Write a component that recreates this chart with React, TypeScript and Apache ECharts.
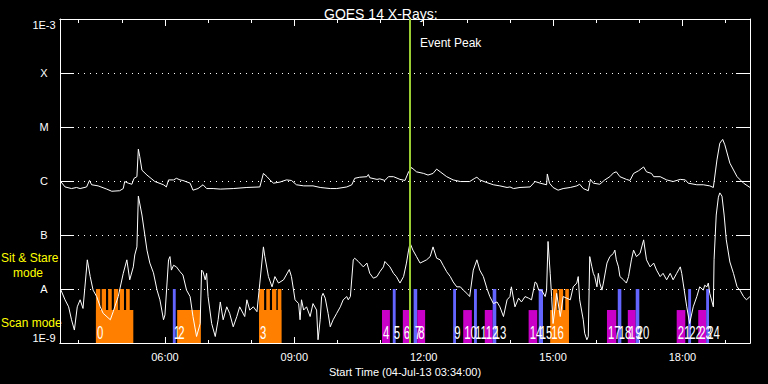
import React, { useEffect, useRef } from 'react';
import * as echarts from 'echarts';

// ---- data (times UT on 04-Jul-2013, fluxes as log10 W/m^2) ----
const timeRange = ['03:34', '19:34'];
const yRange = [-9, -3];
const yTickLabels = ['1E-9', 'A', 'B', 'C', 'M', 'X', '1E-3'];
const xMajorTickLabels = ['06:00', '09:00', '12:00', '15:00', '18:00'];
const xMinorTicks = ['04:00', '05:00', '07:00', '08:00', '10:00', '11:00', '13:00', '14:00', '16:00', '17:00', '19:00'];
const eventPeakTime = '11:41';

// GOES 14 long channel (1-8 A)
const longChannel: [string, number][] = [
  ['03:35', -6.01], ['03:41', -6.11], ['03:50', -6.14], ['03:57', -6.12], ['04:02', -6.14], ['04:11', -6.11], ['04:15', -5.99], ['04:18', -6.07], ['04:27', -6.09], ['04:39', -6.15],
  ['04:46', -6.19], ['04:57', -6.18], ['05:02', -6.14], ['05:04', -6.01], ['05:09', -6.04], ['05:14', -6.06], ['05:17', -5.95], ['05:21', -5.92], ['05:23', -5.41], ['05:25', -5.55],
  ['05:28', -5.80], ['05:35', -5.89], ['05:46', -6.01], ['05:58', -6.07], ['06:02', -6.11], ['06:05', -5.98], ['06:12', -5.98], ['06:16', -5.95], ['06:21', -5.98], ['06:25', -5.99],
  ['06:35', -6.04], ['06:39', -6.17], ['06:46', -6.14], ['06:53', -6.07], ['06:58', -6.14], ['07:07', -6.14], ['07:17', -6.15], ['07:35', -6.14], ['07:54', -6.12], ['08:12', -6.11],
  ['08:17', -5.86], ['08:22', -5.92], ['08:26', -5.98], ['08:31', -6.04], ['08:40', -6.02], ['08:49', -5.98], ['08:56', -5.99], ['09:03', -6.07], ['09:13', -6.09], ['09:26', -6.09],
  ['09:36', -6.12], ['09:50', -6.14], ['09:59', -6.14], ['10:13', -6.11], ['10:20', -6.07], ['10:24', -5.95], ['10:31', -5.93], ['10:41', -5.92], ['10:43', -5.88], ['10:45', -5.94],
  ['10:55', -5.97], ['10:59', -5.96], ['11:06', -5.99], ['11:11', -5.92], ['11:18', -5.92], ['11:27', -5.97], ['11:34', -5.99], ['11:39', -5.83], ['11:41', -5.80], ['11:43', -5.75],
  ['11:50', -5.83], ['12:00', -5.86], ['12:06', -5.89], ['12:13', -5.86], ['12:18', -5.78], ['12:23', -5.83], ['12:32', -5.92], ['12:41', -5.98], ['12:51', -6.01], ['13:04', -6.01],
  ['13:11', -5.95], ['13:14', -5.93], ['13:18', -5.98], ['13:28', -6.03], ['13:37', -6.07], ['13:46', -6.09], ['13:56', -6.12], ['14:00', -6.11], ['14:05', -6.14], ['14:14', -6.12],
  ['14:28', -6.11], ['14:35', -6.01], ['14:42', -6.04], ['14:51', -6.07], ['14:52', -5.87], ['14:55', -6.04], ['15:00', -6.12], ['15:07', -6.17], ['15:14', -6.14], ['15:24', -6.12],
  ['15:33', -6.09], ['15:37', -6.06], ['15:42', -6.14], ['15:49', -6.18], ['15:52', -5.97], ['15:56', -6.04], ['16:05', -6.06], ['16:12', -5.98], ['16:19', -5.92], ['16:24', -5.85],
  ['16:28', -5.83], ['16:33', -5.92], ['16:42', -5.97], ['16:47', -5.99], ['16:52', -5.86], ['16:59', -5.81], ['17:06', -5.74], ['17:10', -5.83], ['17:17', -5.86], ['17:20', -5.92],
  ['17:29', -5.92], ['17:38', -5.98], ['17:47', -6.01], ['17:57', -5.97], ['18:04', -5.98], ['18:08', -6.04], ['18:20', -6.07], ['18:29', -6.07], ['18:38', -6.09], ['18:43', -6.12],
  ['18:48', -5.61], ['18:52', -5.30], ['18:56', -5.23], ['18:59', -5.33], ['19:06', -5.67], ['19:16', -5.92], ['19:25', -6.04], ['19:34', -6.12],
];

// GOES 14 short channel (0.5-4 A)
const shortChannel: [string, number][] = [
  ['03:35', -8.01], ['03:41', -8.20], ['03:46', -8.33], ['03:50', -8.57], ['03:54', -8.76], ['03:58', -8.33], ['04:02', -8.20], ['04:06', -8.36], ['04:12', -7.46], ['04:16', -7.77],
  ['04:20', -8.02], ['04:25', -8.14], ['04:30', -8.33], ['04:34', -8.45], ['04:44', -8.57], ['04:48', -8.42], ['04:55', -8.14], ['05:02', -7.71], ['05:07', -7.46], ['05:11', -7.83],
  ['05:16', -7.59], ['05:18', -7.37], ['05:21', -7.22], ['05:23', -6.28], ['05:28', -6.63], ['05:35', -7.28], ['05:39', -7.52], ['05:44', -7.70], ['05:49', -8.02], ['05:53', -8.20],
  ['05:58', -8.57], ['06:00', -8.48], ['06:05', -7.46], ['06:07', -7.40], ['06:09', -7.65], ['06:12', -7.56], ['06:16', -7.59], ['06:21', -7.68], ['06:25', -7.74], ['06:30', -8.02],
  ['06:35', -8.14], ['06:39', -8.51], ['06:44', -8.88], ['06:49', -8.64], ['06:51', -7.65], ['06:53', -7.68], ['06:56', -7.83], ['06:58', -7.71], ['07:00', -8.14], ['07:05', -8.64],
  ['07:10', -8.88], ['07:14', -8.57], ['07:17', -8.24], ['07:21', -8.57], ['07:26', -8.33], ['07:30', -8.45], ['07:35', -8.70], ['07:40', -8.51], ['07:44', -8.33], ['07:51', -8.51],
  ['07:54', -8.20], ['07:58', -8.39], ['08:03', -8.33], ['08:08', -8.42], ['08:12', -7.89], ['08:17', -7.22], ['08:19', -7.40], ['08:24', -7.77], ['08:29', -7.96], ['08:33', -7.77],
  ['08:38', -7.89], ['08:45', -7.83], ['08:53', -7.64], ['08:56', -7.77], ['09:01', -8.20], ['09:06', -8.27], ['09:08', -8.57], ['09:10', -8.20], ['09:13', -8.39], ['09:17', -8.33],
  ['09:22', -8.51], ['09:26', -8.27], ['09:31', -8.39], ['09:33', -8.94], ['09:36', -8.57], ['09:38', -8.14], ['09:40', -8.08], ['09:43', -8.17], ['09:47', -8.45], ['09:50', -8.70],
  ['09:54', -8.57], ['09:59', -8.45], ['10:04', -8.33], ['10:08', -8.20], ['10:13', -8.14], ['10:15', -8.20], ['10:18', -8.14], ['10:22', -7.46], ['10:24', -7.43], ['10:29', -7.49],
  ['10:36', -7.59], ['10:41', -7.52], ['10:45', -7.71], ['10:50', -7.80], ['10:55', -7.77], ['10:59', -7.68], ['11:04', -7.59], ['11:06', -7.49], ['11:08', -7.52], ['11:13', -7.59],
  ['11:18', -7.71], ['11:22', -7.77], ['11:27', -7.89], ['11:32', -7.77], ['11:36', -7.52], ['11:39', -7.28], ['11:41', -7.15], ['11:45', -7.28], ['11:50', -7.40], ['11:55', -7.52],
  ['12:04', -7.46], ['12:09', -7.40], ['12:13', -7.22], ['12:18', -7.43], ['12:23', -7.46], ['12:27', -7.56], ['12:32', -7.68], ['12:37', -7.77], ['12:41', -7.87], ['12:46', -7.96],
  ['12:51', -7.96], ['12:55', -8.02], ['13:00', -8.08], ['13:04', -8.14], ['13:09', -7.65], ['13:14', -7.46], ['13:18', -7.65], ['13:23', -7.77], ['13:28', -7.99], ['13:32', -8.14],
  ['13:37', -8.27], ['13:42', -8.24], ['13:46', -8.33], ['13:51', -8.51], ['13:56', -8.20], ['14:00', -8.14], ['14:02', -7.96], ['14:07', -8.33], ['14:12', -8.17], ['14:16', -8.24],
  ['14:21', -8.14], ['14:26', -8.17], ['14:30', -8.20], ['14:35', -7.87], ['14:37', -7.89], ['14:40', -8.02], ['14:44', -8.02], ['14:49', -8.14], ['14:51', -8.02], ['14:53', -7.12],
  ['14:56', -7.71], ['14:58', -8.14], ['15:00', -8.64], ['15:03', -8.33], ['15:05', -8.08], ['15:10', -8.51], ['15:14', -8.14], ['15:19', -8.17], ['15:24', -8.20], ['15:28', -7.96],
  ['15:33', -7.89], ['15:35', -7.77], ['15:37', -8.20], ['15:42', -8.57], ['15:44', -8.82], ['15:47', -8.94], ['15:49', -8.88], ['15:51', -7.40], ['15:54', -7.59], ['15:56', -7.71],
  ['15:58', -7.77], ['16:01', -7.96], ['16:03', -7.71], ['16:05', -7.89], ['16:08', -8.02], ['16:10', -7.89], ['16:15', -7.52], ['16:19', -7.40], ['16:24', -7.34], ['16:26', -7.28],
  ['16:28', -7.46], ['16:31', -7.59], ['16:33', -7.77], ['16:38', -7.83], ['16:42', -7.89], ['16:45', -7.77], ['16:49', -7.46], ['16:52', -7.28], ['16:56', -7.40], ['17:01', -7.34],
  ['17:06', -7.09], ['17:10', -7.46], ['17:15', -7.59], ['17:20', -7.52], ['17:24', -7.65], ['17:29', -7.77], ['17:33', -7.71], ['17:38', -7.83], ['17:43', -7.71], ['17:47', -7.83],
  ['17:52', -7.71], ['17:57', -7.59], ['17:59', -7.71], ['18:01', -7.89], ['18:06', -8.33], ['18:10', -8.64], ['18:15', -8.33], ['18:20', -8.14], ['18:24', -7.96], ['18:29', -8.02],
  ['18:31', -7.93], ['18:34', -7.96], ['18:36', -7.89], ['18:38', -8.08], ['18:43', -8.33], ['18:44', -7.46], ['18:47', -6.63], ['18:50', -6.30], ['18:52', -6.22], ['18:55', -6.28],
  ['18:58', -6.63], ['19:01', -7.09], ['19:06', -7.50], ['19:11', -7.71], ['19:16', -7.96], ['19:20', -8.02], ['19:25', -8.14], ['19:29', -8.20], ['19:34', -8.14],
];

// observation events: start, end, kind (label = index)
const events: [string, string, string][] = [
  ['04:24', '05:16', 'scan'], ['06:11', '06:15', 'blue'], ['06:17', '06:50', 'scan'], ['08:11', '08:42', 'scan'],
  ['11:02', '11:13', 'magenta'], ['11:17', '11:21', 'blue'], ['11:31', '11:42', 'magenta'], ['11:46', '11:51', 'blue'],
  ['11:51', '12:02', 'magenta'], ['12:41', '12:45', 'blue'], ['12:55', '13:07', 'magenta'], ['13:10', '13:14', 'blue'],
  ['13:25', '13:36', 'magenta'], ['13:36', '13:41', 'blue'], ['14:26', '14:38', 'magenta'], ['14:40', '14:46', 'blue'],
  ['14:56', '15:22', 'scan'], ['16:15', '16:28', 'magenta'], ['16:30', '16:35', 'blue'], ['16:44', '16:55', 'magenta'],
  ['16:55', '17:00', 'blue'], ['17:52', '18:04', 'magenta'], ['18:08', '18:12', 'blue'], ['18:22', '18:33', 'magenta'],
  ['18:33', '18:37', 'blue'],
];
// sit & stare sub-intervals inside the orange scan blocks
const stareIntervals: [string, string][] = [
  ['04:24', '04:30'], ['04:32', '04:38'], ['04:41', '04:46'], ['04:49', '04:55'], ['04:57', '05:03'], ['05:06', '05:11'],
  ['08:11', '08:18'], ['08:21', '08:26'], ['08:29', '08:35'], ['08:37', '08:42'],
  ['15:00', '15:06'], ['15:08', '15:14'], ['15:17', '15:22'],
];
// top level (log10 flux) reached by each kind of bar
const kindTop: Record<string, number> = { scan: -8.39, magenta: -8.39, blue: -8, stare: -8 };
const kindColor: Record<string, string> = { scan: '#ff8000', magenta: '#c800c8', blue: '#6464ff', stare: '#ff8000' };

const toMin = (t: string) => {
  const [h, m] = t.split(':').map(Number);
  return h * 60 + m;
};
const fmtMin = (v: number) => {
  const h = Math.floor(v / 60);
  const m = Math.round(v % 60);
  return `${String(h).padStart(2, '0')}:${String(m).padStart(2, '0')}`;
};

const FONT = 'Liberation Sans';

export default function App() {
  const ref = useRef<HTMLDivElement>(null);
  useEffect(() => {
    if (!ref.current) return;
    const chart = echarts.init(ref.current, null, { renderer: 'svg' });

    const barItems = [
      ...stareIntervals.map(([s, e]) => ({ s: toMin(s), e: toMin(e), kind: 'stare' })),
      ...events.map(([s, e, k]) => ({ s: toMin(s), e: toMin(e), kind: k })),
    ];
    const xMin = toMin(timeRange[0]);
    const xMax = toMin(timeRange[1]);
    const majorVals = xMajorTickLabels.map(toMin);
    const minorVals = xMinorTicks.map(toMin);

    const baseX = {
      type: 'value',
      min: xMin,
      max: xMax,
      splitLine: { show: false },
      axisLine: { show: true, lineStyle: { color: '#fff', width: 1 } },
    };

    chart.setOption({
      animation: false,
      backgroundColor: '#000',
      title: {
        text: 'GOES 14 X-Rays:',
        left: 319,
        top: 2,
        textStyle: { color: '#fff', fontSize: 14, fontWeight: 'normal', fontFamily: FONT },
      },
      grid: { left: 60, right: 18, top: 19, bottom: 41, containLabel: false },
      xAxis: [
        {
          ...baseX,
          position: 'bottom',
          axisTick: { show: true, inside: true, length: 6, customValues: majorVals, lineStyle: { color: '#fff' } },
          axisLabel: {
            show: true,
            customValues: majorVals,
            formatter: (v: number) => fmtMin(v),
            color: '#fff',
            fontSize: 11,
            fontFamily: FONT,
            margin: 8,
          },
          name: `Start Time (04-Jul-13 ${timeRange[0]}:00)`,
          nameLocation: 'middle',
          nameGap: 22,
          nameTextStyle: { color: '#fff', fontSize: 11, fontFamily: FONT },
        },
        {
          ...baseX,
          position: 'bottom',
          axisTick: { show: true, inside: true, length: 3, customValues: minorVals, lineStyle: { color: '#fff' } },
          axisLabel: { show: false },
        },
        {
          ...baseX,
          position: 'top',
          axisTick: { show: true, inside: true, length: 7, customValues: majorVals, lineStyle: { color: '#fff' } },
          axisLabel: { show: false },
        },
        {
          ...baseX,
          position: 'top',
          axisTick: { show: true, inside: true, length: 4, customValues: minorVals, lineStyle: { color: '#fff' } },
          axisLabel: { show: false },
        },
      ],
      yAxis: [
        {
          type: 'value',
          position: 'left',
          min: yRange[0],
          max: yRange[1],
          interval: 1,
          axisLine: { show: true, lineStyle: { color: '#fff', width: 1 } },
          axisTick: { show: true, inside: true, length: 14, lineStyle: { color: '#fff' } },
          axisLabel: {
            color: '#fff',
            fontSize: 11,
            fontFamily: FONT,
            align: 'center',
            margin: 16,
            verticalAlignMinLabel: 'bottom',
            verticalAlignMaxLabel: 'top',
            formatter: (v: number) => yTickLabels[Math.round(v - yRange[0])],
          },
          splitLine: { show: true, lineStyle: { color: '#fff', width: 1, type: [1, 5] } },
        },
        {
          type: 'value',
          position: 'right',
          min: yRange[0],
          max: yRange[1],
          interval: 1,
          axisLine: { show: true, lineStyle: { color: '#fff', width: 1 } },
          axisTick: { show: true, inside: true, length: 14, lineStyle: { color: '#fff' } },
          axisLabel: { show: false },
          splitLine: { show: false },
        },
      ],
      graphic: [
        { type: 'text', left: 420, top: 37, style: { text: 'Event Peak', fill: '#fff', fontSize: 12, fontFamily: FONT } },
        { type: 'text', left: 1, top: 252, style: { text: 'Sit & Stare', fill: '#ffff00', fontSize: 12, fontFamily: FONT } },
        { type: 'text', left: 13, top: 267, style: { text: 'mode', fill: '#ffff00', fontSize: 12, fontFamily: FONT } },
        { type: 'text', left: 1, top: 317, style: { text: 'Scan mode', fill: '#ffff00', fontSize: 12, fontFamily: FONT } },
      ],
      series: [
        {
          type: 'custom',
          z: 1,
          xAxisIndex: 0,
          yAxisIndex: 0,
          encode: { x: [0, 1], y: 2 },
          data: barItems.map((b) => [b.s, b.e, kindTop[b.kind]]),
          renderItem: (params: any, api: any) => {
            const b = barItems[params.dataIndex];
            const p0 = api.coord([api.value(0), api.value(2)]);
            const p1 = api.coord([api.value(1), yRange[0]]);
            return {
              type: 'rect',
              shape: { x: p0[0], y: p0[1], width: p1[0] - p0[0], height: p1[1] - p0[1] },
              style: { fill: kindColor[b.kind] },
            };
          },
        },
        {
          type: 'custom',
          z: 4,
          xAxisIndex: 0,
          yAxisIndex: 0,
          encode: { x: 0, y: 1 },
          data: events.map(([s]) => [toMin(s), yRange[0]]),
          renderItem: (params: any, api: any) => {
            const p = api.coord([api.value(0), api.value(1)]);
            return {
              type: 'text',
              x: p[0] + 1,
              y: p[1] - 1,
              scaleX: 0.6,
              style: {
                text: String(params.dataIndex),
                fill: '#fff',
                fontSize: 19,
                fontFamily: FONT,
                align: 'left',
                verticalAlign: 'bottom',
              },
            };
          },
        },
        {
          type: 'line',
          z: 3,
          showSymbol: false,
          symbol: 'none',
          data: longChannel.map(([t, v]) => [toMin(t), v]),
          lineStyle: { color: '#fff', width: 1 },
        },
        {
          type: 'line',
          z: 3,
          showSymbol: false,
          symbol: 'none',
          data: shortChannel.map(([t, v]) => [toMin(t), v]),
          lineStyle: { color: '#fff', width: 1 },
        },
        {
          type: 'line',
          z: 6,
          data: [],
          markLine: {
            silent: true,
            symbol: 'none',
            label: { show: false },
            lineStyle: { color: '#9acd32', width: 2, type: 'solid' },
            data: [{ xAxis: toMin(eventPeakTime) }],
          },
        },
      ],
    });
    return () => chart.dispose();
  }, []);
  return (
    <div
      ref={ref}
      style={{ position: 'fixed', left: 0, top: 0, width: 768, height: 384, background: '#000' }}
    />
  );
}
